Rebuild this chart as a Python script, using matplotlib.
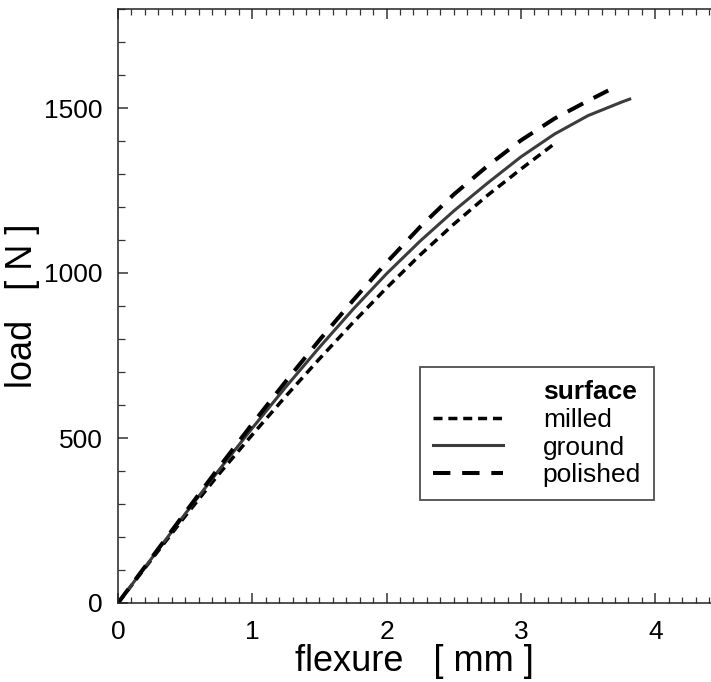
import matplotlib
matplotlib.use("Agg")
import matplotlib.pyplot as plt
from matplotlib.lines import Line2D
from matplotlib.ticker import MultipleLocator

plt.rcParams['font.family'] = ['Liberation Sans', 'DejaVu Sans']
plt.rcParams['lines.scale_dashes'] = False

# data (flexure in mm, load in N)
flex_milled = [0, 0.25, 0.5, 0.75, 1.0, 1.25, 1.5, 1.75, 2.0, 2.25, 2.5, 2.75, 3.0, 3.26]
load_milled = [0, 132, 263, 390, 510, 627, 740, 850, 955, 1055, 1148, 1235, 1315, 1395]

flex_ground = [0, 0.25, 0.5, 0.75, 1.0, 1.25, 1.5, 1.75, 2.0, 2.25, 2.5, 2.75, 3.0, 3.25, 3.5, 3.75, 3.81]
load_ground = [0, 135, 270, 402, 530, 655, 775, 890, 998, 1097, 1188, 1272, 1352, 1421, 1477, 1518, 1527]

flex_polished = [0, 0.25, 0.5, 0.75, 1.0, 1.25, 1.5, 1.75, 2.0, 2.25, 2.5, 2.75, 3.0, 3.25, 3.5, 3.65]
load_polished = [0, 137, 274, 410, 543, 672, 797, 917, 1032, 1140, 1238, 1324, 1402, 1468, 1522, 1553]

series_labels = ['milled', 'ground', 'polished']
legend_title = 'surface'
x_ticks = [0, 1, 2, 3, 4]
y_ticks = [0, 500, 1000, 1500]

W, H = 711, 682
fig = plt.figure(figsize=(W / 100, H / 100), dpi=100)
ax = fig.add_axes([118 / W, 1 - 603 / H, 1 - 118 / W, (603 - 9) / H])

st_milled = dict(color='black', lw=2.5, linestyle=(0, (6.5, 4.2)), dash_capstyle='butt')
st_ground = dict(color='#3c3c3c', lw=2.2, linestyle='-')
st_polished = dict(color='black', lw=2.9, linestyle=(0, (12.5, 8.5)), dash_capstyle='butt')

ax.plot(flex_milled, load_milled, **st_milled)
ax.plot(flex_ground, load_ground, **st_ground)
ax.plot(flex_polished, load_polished, **st_polished)

ax.set_xlim(0, 4.415)
ax.set_ylim(0, 1800)
ax.set_xticks(x_ticks)
ax.set_yticks(y_ticks)
ax.xaxis.set_minor_locator(MultipleLocator(0.1))
ax.yaxis.set_minor_locator(MultipleLocator(100))

ax.spines['right'].set_visible(False)
for s in ['left', 'bottom', 'top']:
    ax.spines[s].set_linewidth(1.1)
    ax.spines[s].set_color('#222222')

ax.tick_params(axis='x', which='both', direction='in', top=True, bottom=True, color='#333333')
ax.tick_params(axis='y', which='both', direction='in', left=True, right=False, color='#333333')
ax.tick_params(axis='x', which='major', length=7, width=1.1, labelsize=19, pad=12)
ax.tick_params(axis='x', which='minor', length=4.5, width=0.9)
ax.tick_params(axis='y', which='major', length=7.5, width=1.1, labelsize=19, pad=11)
ax.tick_params(axis='y', which='minor', length=5, width=0.9)

ax.set_xlabel('flexure   [ mm ]', fontsize=26, labelpad=0)
ax.set_ylabel('load   [ N ]', fontsize=26, labelpad=3)

handles = [Line2D([], [], linestyle='none'),
           Line2D([], [], **st_milled),
           Line2D([], [], **st_ground),
           Line2D([], [], **st_polished)]
labels = [legend_title] + series_labels
leg = ax.legend(handles, labels, loc='upper left',
                bbox_to_anchor=(420 / W, 1 - 367 / H), bbox_transform=fig.transFigure,
                borderaxespad=0, fontsize=19, frameon=True, fancybox=False,
                handlelength=2.65, handletextpad=1.5, borderpad=0.5, labelspacing=0.14)
leg.get_frame().set_edgecolor('#222222')
leg.get_frame().set_linewidth(1.3)
leg.texts[0].set_fontweight('bold')

fig.savefig('out.png', dpi=100)
